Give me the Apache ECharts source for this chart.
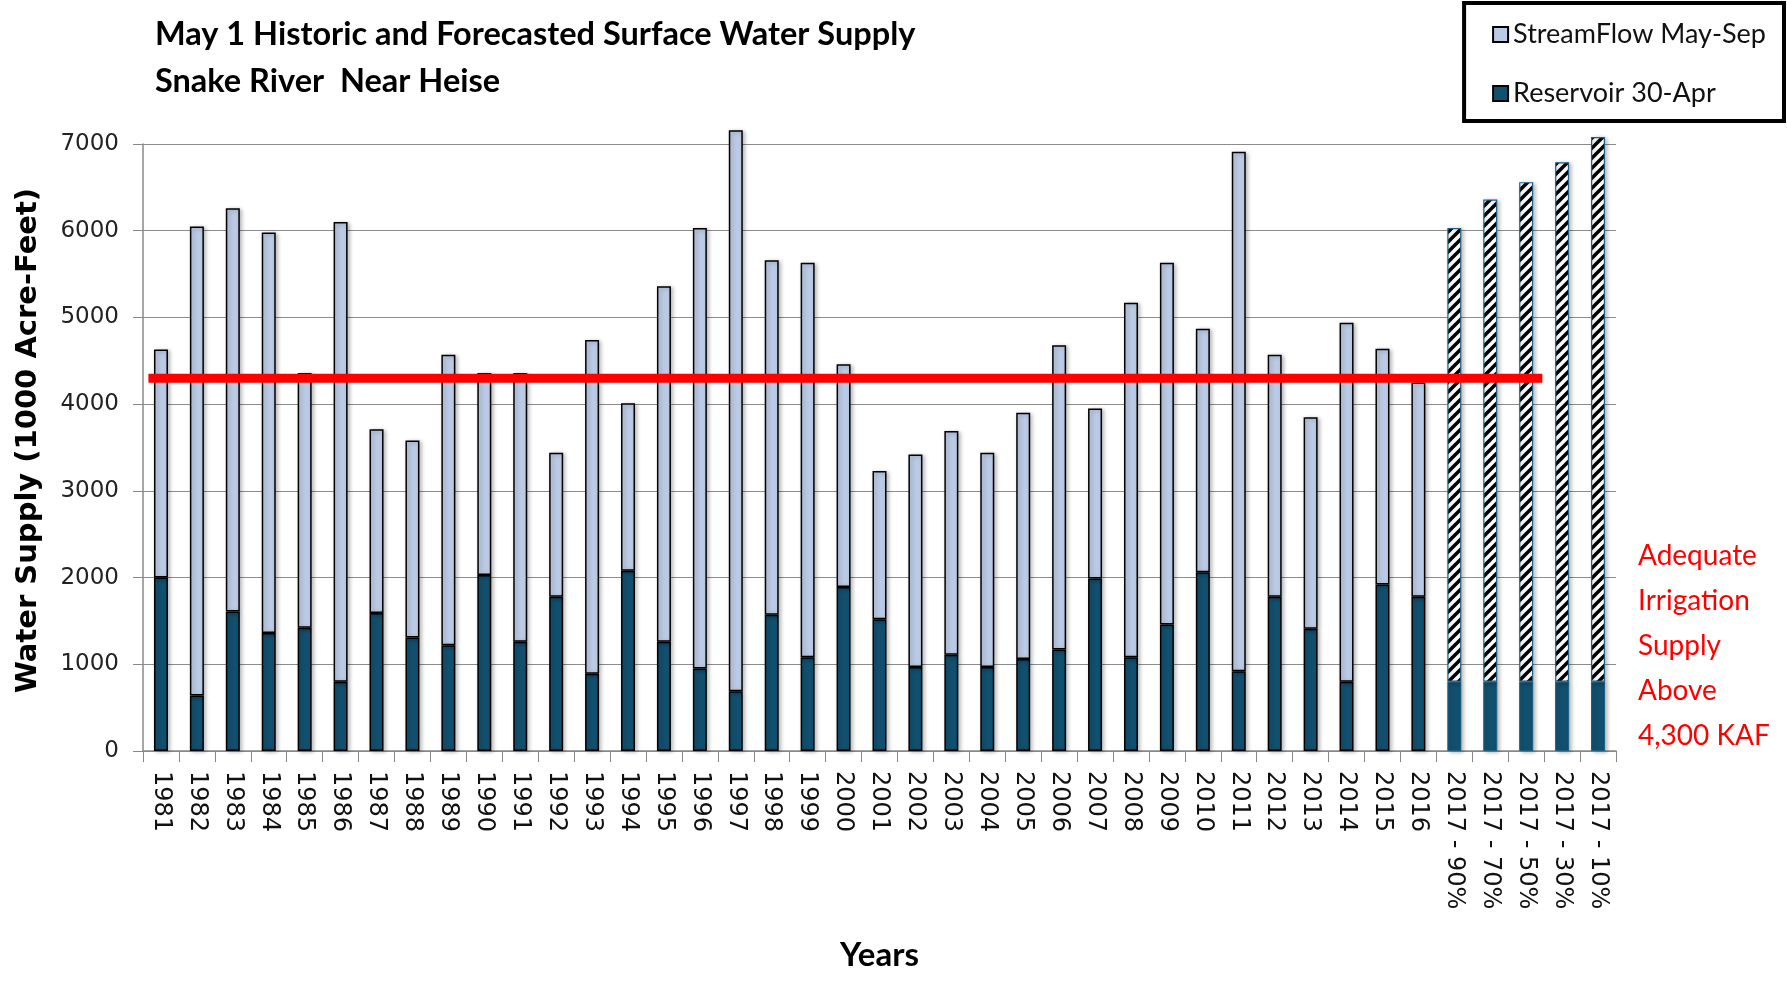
<!DOCTYPE html>
<html>
<head>
<meta charset="utf-8">
<title>Snake River Near Heise</title>
<script src="https://cdn.jsdelivr.net/npm/echarts@6/dist/echarts.min.js"></script>
<style>
  html, body { margin: 0; padding: 0; background: #fff; }
  #chart { width: 1787px; height: 981px; }
</style>
</head>
<body>
<div id="chart"></div>
<script>
// categories (years, then the 2017 forecast exceedance levels)
const years = [
  '1981', '1982', '1983', '1984', '1985', '1986', '1987', '1988', '1989', '1990',
  '1991', '1992', '1993', '1994', '1995', '1996', '1997', '1998', '1999', '2000',
  '2001', '2002', '2003', '2004', '2005', '2006', '2007', '2008', '2009', '2010',
  '2011', '2012', '2013', '2014', '2015', '2016',
  '2017 - 90%', '2017 - 70%', '2017 - 50%', '2017 - 30%', '2017 - 10%'
]
// Reservoir content on 30-Apr (1000 acre-feet)
const reservoir = [
  2000, 640, 1610, 1360, 1420, 800, 1590, 1310, 1220, 2030,
  1260, 1780, 890, 2080, 1260, 950, 690, 1570, 1080, 1890,
  1520, 970, 1110, 970, 1060, 1170, 1990, 1080, 1460, 2060,
  920, 1780, 1410, 800, 1920, 1780,
  800, 800, 800, 800, 800
]
// May-Sep streamflow (1000 acre-feet), stacked on top of reservoir
const streamflow = [
  2630, 5410, 4650, 4620, 2940, 5300, 2120, 2270, 3350, 2330,
  3100, 1660, 3850, 1930, 4100, 5080, 6470, 4090, 4550, 2570,
  1710, 2450, 2580, 2470, 2840, 3510, 1960, 4090, 4170, 2810,
  5990, 2790, 2440, 4140, 2720, 2470,
  5230, 5560, 5760, 5990, 6280
]
// forecast columns are drawn hatched
const isForecast = years.map(function(y) { return y.indexOf('%') > -1 })
// adequate irrigation supply threshold
const threshold = 4300
const thresholdSpan = [0.15, 38.95] // in category units
const yTicks = { min: 0, max: 7000, interval: 1000 }

const lightBlue = '#bccbe5'
const darkBlue = '#12506f'
const edge = '#1e5f82'

// diagonal stripe pattern for the forecast streamflow
function makeHatch() {
  const c = document.createElement('canvas')
  c.width = 10
  c.height = 10
  const ctx = c.getContext('2d')
  ctx.fillStyle = '#fff'
  ctx.fillRect(0, 0, 10, 10)
  ctx.strokeStyle = '#000'
  ctx.lineWidth = 3.5
  ctx.beginPath()
  ctx.moveTo(-2, 12); ctx.lineTo(12, -2)
  ctx.moveTo(-7, 7); ctx.lineTo(7, -7)
  ctx.moveTo(3, 17); ctx.lineTo(17, 3)
  ctx.stroke()
  return c
}
const hatch = makeHatch()

const shadow = {
  shadowColor: 'rgba(0,0,0,0.28)',
  shadowBlur: 4,
  shadowOffsetX: 2,
  shadowOffsetY: 1
}

const reservoirData = reservoir.map(function(v, i) {
  return {
    value: v,
    itemStyle: isForecast[i] ? { borderColor: edge, borderWidth: 1 } : {}
  }
})
const streamData = streamflow.map(function(v, i) {
  return {
    value: v,
    itemStyle: isForecast[i] ? { color: { image: hatch, repeat: 'repeat' }, borderColor: edge, borderWidth: 1.2 } : {}
  }
})

const chart = echarts.init(document.getElementById('chart'))
chart.setOption({
  animation: false,
  title: {
    text: 'May 1 Historic and Forecasted Surface Water Supply\nSnake River  Near Heise',
    left: 150,
    top: 6,
    textStyle: {
      fontFamily: 'Lato',
      fontWeight: 'bold',
      fontSize: 32.5,
      lineHeight: 47,
      color: '#000'
    }
  },
  legend: {
    orient: 'vertical',
    right: 3,
    top: 3,
    data: ['StreamFlow May-Sep', 'Reservoir 30-Apr'],
    borderColor: '#000',
    borderWidth: 4,
    padding: [16, 18, 12, 28],
    itemGap: 28,
    itemWidth: 15,
    itemHeight: 15,
    icon: 'rect',
    textStyle: {
      fontFamily: 'Lato',
      fontSize: 27,
      lineHeight: 31,
      color: '#111'
    }
  },
  grid: {
    left: 143,
    right: 171,
    top: 144,
    bottom: 230
  },
  xAxis: [
    {
      type: 'category',
      data: years,
      name: 'Years',
      nameLocation: 'middle',
      nameGap: 188,
      nameTextStyle: {
        fontFamily: 'Lato',
        fontWeight: 'bold',
        fontSize: 33,
        color: '#000'
      },
      axisLine: { lineStyle: { color: '#888', width: 1.5 } },
      axisTick: { show: true, length: 11, lineStyle: { color: '#888' } },
      axisLabel: {
        interval: 0,
        rotate: -90,
        margin: 20,
        fontFamily: 'DejaVu Sans',
        fontSize: 24,
        color: '#111'
      }
    },
    {
      // hidden value axis so the threshold line can run past the bar centres
      type: 'value',
      min: 0,
      max: years.length,
      show: false
    }
  ],
  yAxis: {
    type: 'value',
    min: yTicks.min,
    max: yTicks.max,
    interval: yTicks.interval,
    name: 'Water Supply (1000 Acre-Feet)',
    nameLocation: 'middle',
    nameGap: 100,
    nameTextStyle: {
      fontFamily: 'DejaVu Sans',
      fontWeight: 'bold',
      fontSize: 29,
      color: '#000',
      padding: [0, 0, 0, 14]
    },
    axisLine: { show: true, lineStyle: { color: '#888', width: 1.5 } },
    axisTick: { show: true, length: 10, lineStyle: { color: '#888' } },
    axisLabel: {
      margin: 24,
      fontFamily: 'DejaVu Sans',
      fontSize: 23,
      color: '#222',
      formatter: function(v) { return String(v) }
    },
    splitLine: { lineStyle: { color: '#8c8c8c', width: 1.2 } }
  },
  series: [
    {
      name: 'Reservoir 30-Apr',
      type: 'bar',
      stack: 'supply',
      barWidth: 14,
      clip: false,
      itemStyle: Object.assign({ color: darkBlue, borderColor: '#000', borderWidth: 1.5 }, shadow),
      data: reservoirData
    },
    {
      name: 'StreamFlow May-Sep',
      type: 'bar',
      stack: 'supply',
      barWidth: 14,
      clip: false,
      itemStyle: Object.assign({ color: lightBlue, borderColor: '#000', borderWidth: 1.5 }, shadow),
      data: streamData
    },
    {
      name: 'threshold',
      type: 'line',
      xAxisIndex: 1,
      symbol: 'none',
      silent: true,
      z: 5,
      lineStyle: { color: '#ff0000', width: 9 },
      data: [[thresholdSpan[0], threshold], [thresholdSpan[1], threshold]]
    }
  ],
  graphic: [
    {
      type: 'text',
      left: 1638,
      top: 533,
      style: {
        text: 'Adequate\nIrrigation\nSupply\nAbove\n4,300 KAF',
        font: '28px Lato',
        lineHeight: 45,
        fill: '#ff0000'
      }
    }
  ]
})
</script>
</body>
</html>
